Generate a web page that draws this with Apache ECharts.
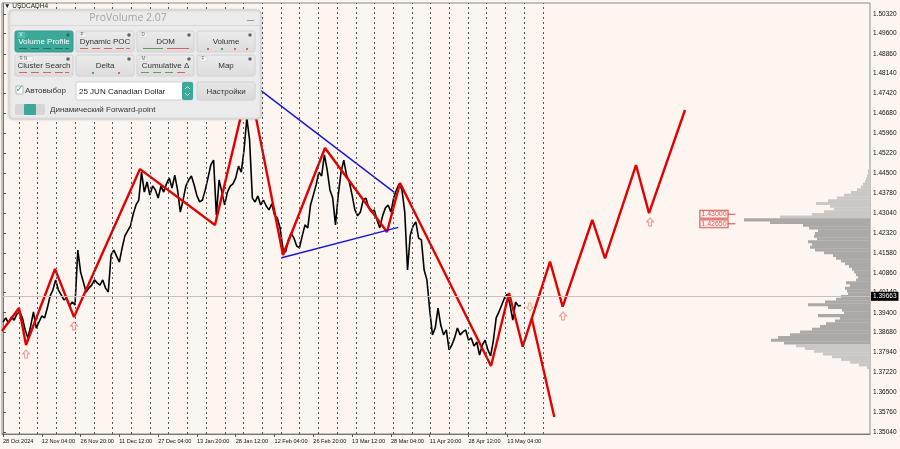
<!DOCTYPE html>
<html><head><meta charset="utf-8">
<script src="https://cdn.jsdelivr.net/npm/echarts@6/dist/echarts.min.js"></script>
<style>html,body{margin:0;padding:0;background:#fdf6f0}#c{width:900px;height:449px}</style>
</head><body><div id="c"></div>
<script>
// ---- data ----
const timeLabels = ['28 Oct 2024','12 Nov 04:00','26 Nov 20:00','11 Dec 12:00','27 Dec 04:00','13 Jan 20:00','28 Jan 12:00','12 Feb 04:00','26 Feb 20:00','13 Mar 12:00','28 Mar 04:00','11 Apr 20:00','28 Apr 12:00','13 May 04:00'];
const priceTicks = [1.50320,1.49600,1.48860,1.48140,1.47420,1.46680,1.45960,1.45220,1.44500,1.43780,1.43040,1.42320,1.41580,1.40860,1.40140,1.39400,1.38680,1.37940,1.37220,1.36500,1.35760,1.35040];
const pointsPerLabel = 14;   // price samples per time-label interval
const closes = [
1.3906,1.3921,1.3902,1.3924,1.3913,1.3935,1.3943,1.3921,1.3877,1.3848,
1.3892,1.3943,1.3884,1.3906,1.3928,1.3921,1.3957,1.4001,1.4023,1.4060,
1.4023,1.4005,1.3987,1.3994,1.3965,1.3979,1.3968,1.4169,1.4089,1.4052,
1.4016,1.4030,1.4041,1.4060,1.4049,1.4041,1.4060,1.4030,1.4016,1.4151,
1.4169,1.4147,1.4125,1.4177,1.4221,1.4239,1.4257,1.4301,1.4334,1.4352,
1.4454,1.4381,1.4418,1.4370,1.4403,1.4389,1.4359,1.4403,1.4381,1.4411,
1.4433,1.4396,1.4443,1.4389,1.4308,1.4352,1.4403,1.4425,1.4440,1.4407,
1.4367,1.4345,1.4352,1.4389,1.4433,1.4480,1.4498,1.4297,1.4425,1.4381,
1.4334,1.4381,1.4403,1.4411,1.4433,1.4476,1.4454,1.4535,1.4652,1.4571,
1.4359,1.4345,1.4367,1.4334,1.4352,1.4330,1.4316,1.4338,1.4297,1.4286,
1.4250,1.4177,1.4162,1.4206,1.4231,1.4213,1.4184,1.4177,1.4221,1.4261,
1.4250,1.4334,1.4370,1.4407,1.4454,1.4440,1.4517,1.4462,1.4389,1.4359,
1.4261,1.4370,1.4454,1.4498,1.4443,1.4418,1.4370,1.4316,1.4294,1.4308,
1.4352,1.4359,1.4323,1.4308,1.4316,1.4279,1.4250,1.4294,1.4323,1.4334,
1.4308,1.4359,1.4389,1.4411,1.4389,1.4308,1.4096,1.4224,1.4257,1.4272,
1.4213,1.4206,1.4096,1.4060,1.3950,1.3859,1.3884,1.3957,1.3895,1.3859,
1.3877,1.3804,1.3822,1.3848,1.3884,1.3859,1.3870,1.3877,1.3840,1.3848,
1.3818,1.3833,1.3785,1.3822,1.3840,1.3804,1.3782,1.3840,1.3921,1.3943,
1.3968,1.3994,1.4008,1.3968,1.3913,1.3979,1.3965,1.39663];
const lastPrice = 1.39663;
// zigzag in [time (label units), price]
const zigzag = [[-0.026,1.3873],[0.413,1.3957],[0.593,1.3822],[1.341,1.4100],[1.830,1.3924],[3.532,1.4465],[5.465,1.4261],[6.342,1.4783],[7.218,1.4151],[8.301,1.4542],[9.900,1.4235],[10.235,1.4414],[12.581,1.3745],[13.045,1.4012],[13.398,1.3816],[14.102,1.4127],[14.429,1.3962],[15.192,1.4279],[15.520,1.4139],[16.319,1.4480],[16.654,1.4304],[17.582,1.4681]];
const zigzagBranch = [[13.630,1.3920],[14.212,1.3559]];
const blueUpper = [[6.574,1.4760],[10.088,1.4380]];
const blueLower = [[7.185,1.4141],[10.191,1.4252]];
const arrowsUp = [[0.593,1.3789],[1.830,1.3892],[14.436,1.3928],[16.680,1.4272]];
const arrowsDown = [[13.58,1.3961]];
const separators = [0.41,0.89,1.38,1.86,2.34,2.82,3.31,3.79,4.27,4.75,5.24,5.72,6.20,6.68,7.17,7.65,8.13,8.61,9.10,9.58,10.06,10.54,11.02,11.51,11.99,12.47,12.95,13.44,13.92];
const profileTopPrice = 1.448, profileStep = 0.001;
const profileVolumes = [1,1,2,2,3,4,5,7,9,13,19,26,33,42,54,40,36,46,58,90,126,100,67,61,52,55,56,53,62,58,60,55,46,37,34,29,25,21,18,16,14,12,14,24,20,25,23,22,29,34,45,62,42,28,26,52,30,35,44,50,58,70,80,92,99,86,74,65,56,47,38,29,20,11,3];
const valueArea = [1.3825, 1.4285];
const levelPrices = [1.43000, 1.42650];

// ---- chart ----
const chart = echarts.init(document.getElementById('c'));
const BG = '#fdf6f0';
const AXIS_FONT = '"Liberation Sans", Arial, sans-serif';
const xMin = -1/38.79, xMax = 867/38.79;
const profileData = profileVolumes.map((v,i)=>{const p=+(profileTopPrice-i*profileStep).toFixed(4);return [v,p,(p>=valueArea[0]&&p<=valueArea[1])?1:0];});

function btn(x,y,w,h,text,active,tag,marks){
  const els=[];
  els.push({type:'rect',shape:{x:x,y:y,width:w,height:h,r:2},style:{fill:active?'#3ba89a':new echarts.graphic.LinearGradient(0,0,0,1,[{offset:0,color:'#ececec'},{offset:1,color:'#dcdcdc'}]),stroke:active?'#36998c':'#d2d2d2',lineWidth:1}});
  els.push({type:'text',style:{x:x+w/2,y:y+h/2+0.5,text:text,fill:active?'#fff':'#333',font:'8px "Liberation Sans", Arial, sans-serif',align:'center',verticalAlign:'middle'}});
  if(tag){els.push({type:'rect',shape:{x:x+3,y:y+1.5,width:tag.length*4+3,height:5},style:{fill:active?'#4db7a9':'#f4f4f4',stroke:active?'#5cc':'#ccc',lineWidth:0.5}});
    els.push({type:'text',style:{x:x+4.5,y:y+4,text:tag,fill:active?'#fff':'#666',font:'4.5px "Liberation Sans", sans-serif',verticalAlign:'middle'}});}
  els.push({type:'circle',shape:{cx:x+w-5,cy:y+4,r:1.8},style:{fill:active?'#2c6d65':'#666'}});
  (marks||[]).forEach(m=>{els.push({type:'rect',shape:{x:x+m[0],y:y+h-4,width:m[1],height:m[3]||1},style:{fill:m[2]}});});
  return els;
}
const dashes = (c)=>[[4,8,c],[16,8,c],[28,8,c],[40,8,c],[50,4,c]];
let panel = [];
panel.push({type:'text',style:{x:4,y:6,text:'▼ USDCADH4',fill:'#222',font:'6.5px "Liberation Sans", sans-serif',verticalAlign:'middle'}});
panel.push({type:'rect',shape:{x:9,y:10,width:252,height:109,r:4},style:{fill:'#ebebeb',stroke:'#cdcdcd',lineWidth:1,shadowBlur:3,shadowColor:'rgba(0,0,0,0.15)'}});
panel.push({type:'text',style:{x:128,y:18,text:'ProVolume 2.07',fill:'#a4a4a4',font:'10.5px "Open Sans", "Liberation Sans", sans-serif',align:'center',verticalAlign:'middle'}});
panel.push({type:'rect',shape:{x:247,y:20,width:7,height:1},style:{fill:'#999'}});
panel.push({type:'line',shape:{x1:10,y1:25.5,x2:260,y2:25.5},style:{stroke:'#d8d8d8',lineWidth:1}});
panel = panel.concat(
  btn(15,31,58,21,'Volume Profile',true,'V',dashes('#2a6f66')),
  btn(76,31,58,21,'Dynamic POC',false,'P',dashes('#e06060')),
  btn(137,31,57,21,'DOM',false,'D',[[6,20,'#5aa05a'],[30,22,'#e06060']]),
  btn(197,31,58,21,'Volume',false,'',[[10,2,'#e06060',2],[24,2,'#5aa05a',2],[37,2,'#e06060',2],[49,2,'#e06060',2]]),
  btn(15,55,58,21,'Cluster Search',false,'R N',dashes('#e06060')),
  btn(76,55,58,21,'Delta',false,'',[[16,2,'#5aa05a',2],[42,2,'#e06060',2]]),
  btn(137,55,57,21,'Cumulative Δ',false,'M',[[4,8,'#5aa05a'],[16,8,'#5aa05a'],[28,8,'#5aa05a'],[40,8,'#e06060']]),
  btn(197,55,58,21,'Map',false,'F',[])
);
panel.push({type:'rect',shape:{x:16,y:86,width:7,height:8},style:{fill:'#fff',stroke:'#aaa',lineWidth:0.8}});
panel.push({type:'text',style:{x:15.5,y:89,text:'✓',fill:'#3ba89a',font:'bold 10px "DejaVu Sans", sans-serif',verticalAlign:'middle'}});
panel.push({type:'text',style:{x:25,y:91,text:'Автовыбор',fill:'#333',font:'8px "Liberation Sans", sans-serif',verticalAlign:'middle'}});
panel.push({type:'rect',shape:{x:76,y:82,width:117,height:18,r:2},style:{fill:'#fff',stroke:'#cfcfcf',lineWidth:1}});
panel.push({type:'text',style:{x:79,y:91.5,text:'25 JUN Canadian Dollar',fill:'#222',font:'8px "Liberation Sans", sans-serif',verticalAlign:'middle'}});
panel.push({type:'rect',shape:{x:182,y:82,width:11,height:18,r:2},style:{fill:'#3ba89a'}});
panel.push({type:'polyline',shape:{points:[[185,89],[187.5,86.5],[190,89]]},style:{stroke:'#dff',lineWidth:0.8,fill:null}});
panel.push({type:'polyline',shape:{points:[[185,93],[187.5,95.5],[190,93]]},style:{stroke:'#dff',lineWidth:0.8,fill:null}});
panel.push({type:'rect',shape:{x:197,y:82,width:58,height:18,r:2},style:{fill:new echarts.graphic.LinearGradient(0,0,0,1,[{offset:0,color:'#e8e8e8'},{offset:1,color:'#d8d8d8'}]),stroke:'#d0d0d0',lineWidth:1}});
panel.push({type:'text',style:{x:226,y:91.5,text:'Настройки',fill:'#333',font:'8px "Liberation Sans", sans-serif',align:'center',verticalAlign:'middle'}});
panel.push({type:'rect',shape:{x:15,y:104,width:30,height:11,r:2},style:{fill:'#d6d6d6'}});
panel.push({type:'rect',shape:{x:24,y:104,width:12,height:11,r:1},style:{fill:'#3ba89a'}});
panel.push({type:'text',style:{x:50,y:109.5,text:'Динамический Forward-point',fill:'#333',font:'8px "Liberation Sans", sans-serif',verticalAlign:'middle'}});
panel.forEach(e=>{e.z=100;});

const option = {
  backgroundColor: BG,
  animation:false,
  grid:{left:2,right:30,top:3,bottom:15,show:true,borderColor:'#8a8a8a',borderWidth:1,backgroundColor:BG},
  xAxis:[
    {type:'value',min:xMin,max:xMax,
     axisLine:{show:true,lineStyle:{color:'#777'}},
     axisTick:{show:true,length:3,customValues:timeLabels.map((t,i)=>i),lineStyle:{color:'#555'}},
     axisLabel:{customValues:timeLabels.map((t,i)=>i),formatter:v=>timeLabels[Math.round(v)],align:'left',fontSize:5.6,color:'#111',margin:4,fontFamily:AXIS_FONT},
     splitLine:{show:false}},
    {type:'value',min:0,max:868,inverse:true,show:false}
  ],
  yAxis:{type:'value',position:'right',min:1.34967,max:1.50722,
     axisLine:{show:true,lineStyle:{color:'#777'}},
     axisTick:{show:true,length:3,customValues:priceTicks,lineStyle:{color:'#555'}},
     axisLabel:{customValues:priceTicks,formatter:v=>v.toFixed(5),fontSize:6.5,color:'#111',margin:3,fontFamily:'"Liberation Sans", Arial, sans-serif'},
     splitLine:{show:false}},
  graphic:panel,
  series:[
    {type:'custom',xAxisIndex:1,yAxisIndex:0,z:1,data:profileData,
     renderItem:(params,api)=>{
       const v=api.value(0),p=api.value(1),va=api.value(2);
       const a=api.coord([v,p+profileStep/2]),b=api.coord([0,p-profileStep/2]);
       return {type:'rect',shape:{x:Math.min(a[0],b[0]),y:Math.min(a[1],b[1]),width:Math.abs(b[0]-a[0]),height:Math.abs(b[1]-a[1])+0.3},style:{fill:va?'#aba8a6':'#cac7c4'}};
     }},
    {type:'line',name:'sep',data:[],markLine:{silent:true,symbol:'none',label:{show:false},lineStyle:{type:[2,3],color:'#555',width:1},data:separators.map(s=>({xAxis:s}))}},
    {type:'line',name:'price',data:closes.map((c,i)=>[i/pointsPerLabel,c]),symbol:'none',z:3,lineStyle:{color:'#000',width:1.6},
     markLine:{silent:true,symbol:'none',lineStyle:{color:'#c9c0b8',width:1,type:'solid'},
       label:{show:true,position:'end',formatter:lastPrice.toFixed(5),backgroundColor:'#000',color:'#fff',fontSize:6.5,padding:[1,2],distance:1,fontFamily:'"Liberation Sans", sans-serif'},
       data:[{yAxis:lastPrice}]}},
    {type:'line',name:'zig',data:zigzag,symbol:'none',z:4,lineStyle:{color:'#e30000',width:2.4}},
    {type:'line',name:'zig2',data:zigzagBranch,symbol:'none',z:4,lineStyle:{color:'#e30000',width:2.4}},
    {type:'line',name:'blueU',data:blueUpper,symbol:'none',z:4,lineStyle:{color:'#1414e0',width:1.4}},
    {type:'line',name:'blueL',data:blueLower,symbol:'none',z:4,lineStyle:{color:'#1414e0',width:1.4}},
    {type:'scatter',data:arrowsUp,z:5,symbol:'path://M5,0 L10,5 L7,5 L7,10 L3,10 L3,5 L0,5 Z',symbolSize:[7,8],itemStyle:{color:BG,borderColor:'#f07a7a',borderWidth:1}},
    {type:'scatter',data:arrowsDown,z:5,symbol:'path://M5,0 L10,5 L7,5 L7,10 L3,10 L3,5 L0,5 Z',symbolRotate:180,symbolSize:[7,8],itemStyle:{color:BG,borderColor:'#f0a070',borderWidth:1}},
    {type:'line',name:'lv1',data:[[18.68,levelPrices[0]],[18.88,levelPrices[0]]],symbol:'none',z:5,lineStyle:{color:'#d84040',width:1}},
    {type:'line',name:'lv2',data:[[18.68,levelPrices[1]],[18.88,levelPrices[1]]],symbol:'none',z:5,lineStyle:{color:'#d84040',width:1}},
    {type:'scatter',z:6,symbolSize:0,data:levelPrices.map(p=>[18.68,p]),
      label:{show:true,position:'left',distance:0,formatter:p=>p.value[1].toFixed(5),color:'#d03030',fontSize:7,borderColor:'#d03030',borderWidth:1,padding:[0,1],backgroundColor:BG,fontFamily:'"Liberation Sans", sans-serif'}}
  ]
};
chart.setOption(option);
</script></body></html>
